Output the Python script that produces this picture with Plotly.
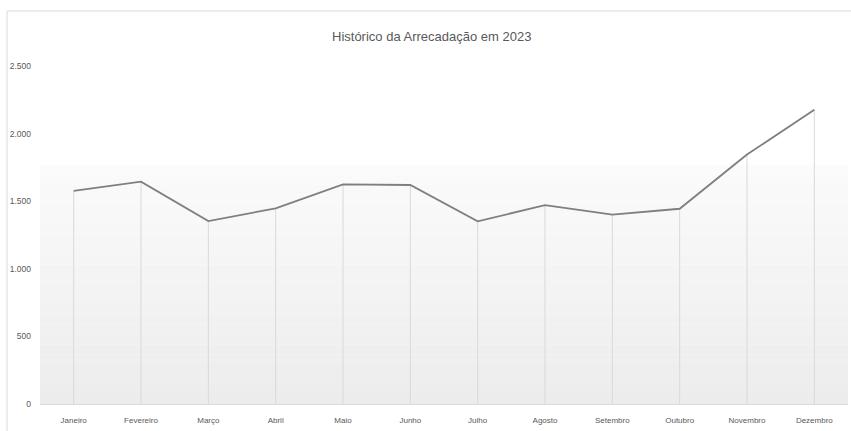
import plotly.graph_objects as go

months = ["Janeiro", "Fevereiro", "Março", "Abril", "Maio", "Junho",
          "Julho", "Agosto", "Setembro", "Outubro", "Novembro", "Dezembro"]
values = [1576, 1644, 1353, 1447, 1624, 1620, 1351, 1471, 1401, 1444, 1845, 2177]
y_ticks = [0, 500, 1000, 1500, 2000, 2500]
y_tick_labels = ["0", "500", "1.000", "1.500", "2.000", "2.500"]
title_text = "Histórico da Arrecadação em 2023"

FONT = "Liberation Sans Narrow, Liberation Sans, Arial, sans-serif"
TEXT = "#595959"

fig = go.Figure()

# drop lines from each point to the axis
dx, dy = [], []
for m, v in zip(months, values):
    dx += [m, m, None]
    dy += [0, v, None]
fig.add_trace(go.Scatter(x=dx, y=dy, mode="lines",
                         line=dict(color="#d9d9d9", width=1),
                         hoverinfo="skip", showlegend=False))

fig.add_trace(go.Scatter(x=months, y=values, mode="lines",
                         line=dict(color="#7f7f7f", width=1.8),
                         showlegend=False))

# gradient background band (light at top, darker at bottom)
shapes = []
n = 24
top_val = 1770
c_top, c_bot = 251, 236
for i in range(n):
    y0 = top_val * i / n
    y1 = top_val * (i + 1) / n
    frac = (i + 0.5) / n
    c = round(c_bot + (c_top - c_bot) * frac)
    shapes.append(dict(type="rect", xref="paper", yref="y", x0=0, x1=1,
                       y0=y0, y1=y1, fillcolor=f"rgb({c},{c},{c})",
                       line=dict(width=0), layer="below"))
# outer chart border
shapes.append(dict(type="rect", xref="paper", yref="paper",
                   x0=-0.0408, x1=1.2, y0=-0.3, y1=1.1627,
                   line=dict(color="#d9d9d9", width=1), fillcolor="rgba(0,0,0,0)",
                   layer="above"))

fig.update_layout(
    width=851, height=431,
    margin=dict(l=40, r=3, t=66, b=27),
    paper_bgcolor="white", plot_bgcolor="white",
    shapes=shapes,
    font=dict(family=FONT, color=TEXT),
    annotations=[dict(text=title_text, xref="paper", yref="paper",
                      x=0.484, y=1.0858, xanchor="center", yanchor="middle",
                      showarrow=False, font=dict(size=13, color=TEXT, family=FONT))],
    xaxis=dict(type="category", range=[-0.5, 11.5], showgrid=False,
               showline=True, linecolor="#d9d9d9", linewidth=1,
               ticks="", tickfont=dict(size=8, color=TEXT), ticklabelstandoff=8,
               fixedrange=True),
    yaxis=dict(range=[0, 2500], tickvals=y_ticks, ticktext=y_tick_labels,
               showgrid=False, zeroline=False, showline=False,
               tickfont=dict(size=8.5, color=TEXT), ticks="", ticklabelstandoff=8,
               fixedrange=True),
)

fig.write_html("out.html",
               config={"displayModeBar": False},
               post_script="document.body.style.margin='0px';document.body.style.overflow='hidden';")
